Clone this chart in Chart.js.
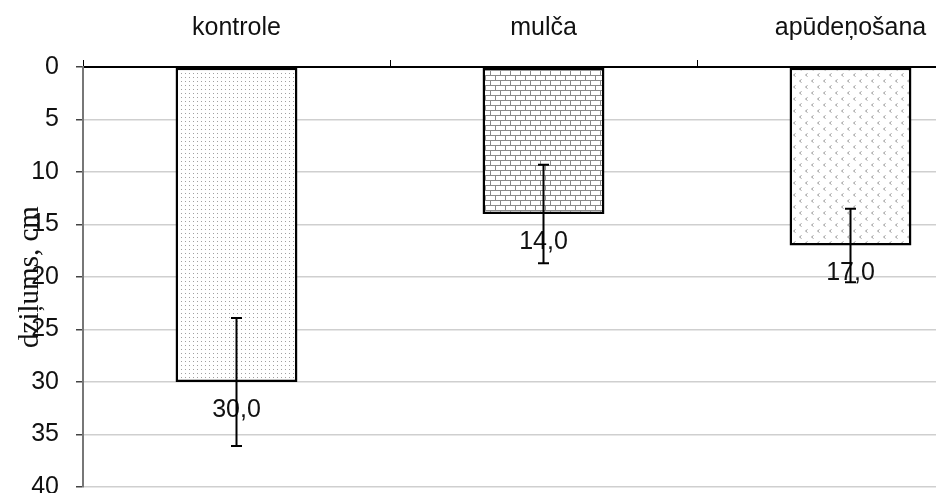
<!DOCTYPE html>
<html>
<head>
<meta charset="utf-8">
<script src="https://cdn.jsdelivr.net/npm/chart.js@4"></script>
<style>
    body { margin: 0; background: #fff; overflow: hidden; }
</style>
</head>
<body>
<canvas id="depthChart" width="1010" height="493"></canvas>
<script>
// Data
const categories = ['kontrole', 'mulča', 'apūdeņošana'];
const depths = [30.0, 14.0, 17.0];
const errors = [6.1, 4.7, 3.5];
const yTicks = [0, 5, 10, 15, 20, 25, 30, 35, 40];

const textFont = 'Arial, "Liberation Sans", sans-serif';

// Pattern helpers
function makeTile(w, h, draw) {
    const c = document.createElement('canvas');
    c.width = w;
    c.height = h;
    const ctx = c.getContext('2d');
    ctx.fillStyle = '#fff';
    ctx.fillRect(0, 0, w, h);
    draw(ctx);
    return document.createElement('canvas').getContext('2d').createPattern(c, 'repeat');
}

function dotPattern() {
    return makeTile(4, 4, function (ctx) {
        ctx.fillStyle = '#a0a0a0';
        ctx.fillRect(1, 1, 1, 1);
    });
}

function brickPattern() {
    return makeTile(10, 10, function (ctx) {
        ctx.fillStyle = '#8a8a8a';
        ctx.fillRect(0, 0, 10, 1);
        ctx.fillRect(0, 5, 10, 1);
        ctx.fillRect(0, 0, 1, 5);
        ctx.fillRect(5, 5, 1, 5);
    });
}

function chevronPattern() {
    return makeTile(12, 12, function (ctx) {
        ctx.strokeStyle = '#9a9a9a';
        ctx.lineWidth = 1;
        function mark(x, y) {
            ctx.beginPath();
            ctx.moveTo(x + 2.5, y + 0.5);
            ctx.lineTo(x + 0.5, y + 2);
            ctx.lineTo(x + 2.5, y + 3.5);
            ctx.stroke();
        }
        mark(1, 1);
        mark(7, 7);
    });
}

// Value labels under each bar
const valueLabels = {
    id: 'valueLabels',
    afterDatasetsDraw(chart) {
        const ctx = chart.ctx;
        const y = chart.scales.y;
        ctx.save();
        ctx.font = '25px ' + textFont;
        ctx.fillStyle = '#111';
        ctx.textAlign = 'center';
        ctx.textBaseline = 'middle';
        chart.getDatasetMeta(0).data.forEach(function (bar, i) {
            const text = depths[i].toFixed(1).replace('.', ',');
            ctx.fillText(text, bar.x, y.getPixelForValue(depths[i]) + 28);
        });
        ctx.restore();
    }
};

// Error bars
const errorBars = {
    id: 'errorBars',
    afterDatasetsDraw(chart) {
        const ctx = chart.ctx;
        const y = chart.scales.y;
        ctx.save();
        ctx.strokeStyle = '#000';
        ctx.lineWidth = 2;
        chart.getDatasetMeta(0).data.forEach(function (bar, i) {
            const top = y.getPixelForValue(depths[i] - errors[i]);
            const bottom = y.getPixelForValue(depths[i] + errors[i]);
            ctx.beginPath();
            ctx.moveTo(bar.x, top);
            ctx.lineTo(bar.x, bottom);
            ctx.moveTo(bar.x - 5.5, top);
            ctx.lineTo(bar.x + 5.5, top);
            ctx.moveTo(bar.x - 5.5, bottom);
            ctx.lineTo(bar.x + 5.5, bottom);
            ctx.stroke();
        });
        ctx.restore();
    }
};

new Chart(document.getElementById('depthChart'), {
    type: 'bar',
    data: {
        labels: categories,
        datasets: [{
            data: depths,
            backgroundColor: [dotPattern(), brickPattern(), chevronPattern()],
            borderColor: '#000',
            borderWidth: 2.5,
            borderSkipped: false,
            categoryPercentage: 1,
            barPercentage: 0.397
        }]
    },
    options: {
        responsive: false,
        animation: false,
        layout: { padding: { top: 0, right: 6, bottom: 6, left: 0 } },
        plugins: {
            legend: { display: false },
            tooltip: { enabled: false }
        },
        scales: {
            x: {
                position: 'top',
                afterFit: function (scale) {
                    scale.height = 67;
                    scale.paddingLeft = 0;
                    scale.paddingRight = 0;
                },
                grid: { offset: true, drawOnChartArea: false, tickLength: 7, tickColor: '#000' },
                border: { color: '#000', width: 2 },
                ticks: { color: '#111', font: { family: textFont, size: 25 }, padding: 17 }
            },
            y: {
                reverse: true,
                min: 0,
                max: 40,
                afterFit: function (scale) {
                    scale.width = 83;
                    scale.paddingTop = 0;
                    scale.paddingBottom = 0;
                },
                afterBuildTicks: function (scale) {
                    scale.ticks = yTicks.map(function (v) { return { value: v }; });
                },
                grid: { color: '#cfcfcf', tickLength: 7, tickColor: '#444', lineWidth: 1.5 },
                border: { color: '#777', width: 2 },
                ticks: { color: '#111', font: { family: textFont, size: 25 }, padding: 17 },
                title: {
                    display: true,
                    text: 'dziļums, cm',
                    color: '#111',
                    font: { family: '"Liberation Serif", "Times New Roman", serif', size: 29 },
                    padding: { top: 13, bottom: 0 }
                }
            }
        }
    },
    plugins: [valueLabels, errorBars]
});
</script>
</body>
</html>
